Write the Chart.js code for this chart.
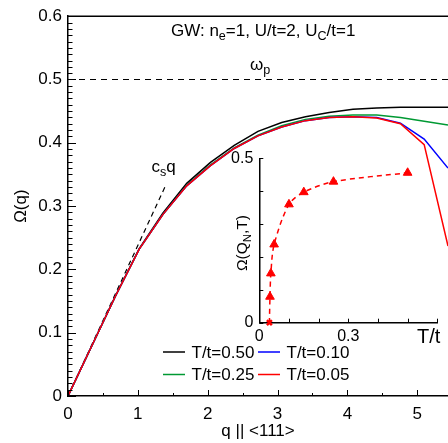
<!DOCTYPE html>
<html>
<head>
<meta charset="utf-8">
<script src="https://cdn.jsdelivr.net/npm/chart.js@4.4.1/dist/chart.umd.min.js"></script>
<style>
    html, body { margin: 0; padding: 0; background: #fff; }
    #wrap { position: relative; width: 448px; height: 443px; overflow: hidden; }
    #main { position: absolute; left: 0; top: 0; }
    #inset { position: absolute; left: 200px; top: 130px; }
</style>
</head>
<body>
<div id="wrap">
    <canvas id="main" width="448" height="443"></canvas>
    <canvas id="inset" width="248" height="240"></canvas>
</div>
<script>
// q along <111>, 16 steps up to the N point (pi*sqrt(3))
const qValues = [0, 0.34, 0.68, 1.02, 1.36, 1.70, 2.04, 2.38, 2.72, 3.06, 3.40, 3.74, 4.08, 4.42, 4.76, 5.10, 5.441];
const omegaT050 = [0, 0.079, 0.158, 0.233, 0.289, 0.336, 0.369, 0.396, 0.418, 0.432, 0.441, 0.448, 0.453, 0.455, 0.456, 0.456, 0.456];
const omegaT025 = [0, 0.079, 0.158, 0.232, 0.287, 0.333, 0.365, 0.392, 0.412, 0.427, 0.437, 0.442, 0.444, 0.444, 0.440, 0.434, 0.428];
const omegaT010 = [0, 0.079, 0.158, 0.232, 0.287, 0.332, 0.364, 0.391, 0.411, 0.425, 0.435, 0.440, 0.441, 0.440, 0.431, 0.406, 0.360];
const omegaT005 = [0, 0.079, 0.158, 0.232, 0.287, 0.332, 0.364, 0.391, 0.411, 0.425, 0.435, 0.440, 0.441, 0.439, 0.430, 0.397, 0.237];

// c_s q and omega_p guide lines
const soundQ = [0, 1.40];
const soundOmega = [0, 0.333];
const plasmaQ = [0, 5.441];
const plasmaOmega = [0.5, 0.5];

// inset: Omega(Q_N, T)
const insetT = [0.034, 0.036, 0.039, 0.05, 0.10, 0.15, 0.25, 0.50];
const insetOmega = [0, 0.079, 0.150, 0.238, 0.360, 0.397, 0.429, 0.456];
const insetMarkers = ['crossRot', 'triangle', 'triangle', 'triangle', 'triangle', 'triangle', 'triangle', 'triangle'];

// legend, column by column
const legendLabels = ['T/t=0.50', 'T/t=0.25', 'T/t=0.10', 'T/t=0.05'];

const FONT = "'Liberation Sans', Arial, sans-serif";
Chart.defaults.font.family = FONT;
Chart.defaults.font.size = 17;
Chart.defaults.color = '#000';

const toPoints = (xs, ys) => xs.map((x, i) => ({ x: x, y: ys[i] }));

function drawRich(ctx, x, y, parts, size) {
    let cx = x;
    parts.forEach(p => {
        const fs = p.sub ? size * 0.74 : size;
        ctx.font = fs + 'px ' + FONT;
        ctx.fillText(p.t, cx, y + (p.sub ? size * 0.24 : 0));
        cx += ctx.measureText(p.t).width;
    });
}

function richWidth(ctx, parts, size) {
    let w = 0;
    parts.forEach(p => {
        ctx.font = (p.sub ? size * 0.74 : size) + 'px ' + FONT;
        w += ctx.measureText(p.t).width;
    });
    return w;
}

// tick marks pointing into the plot
const insideTicks = {
    id: 'insideTicks',
    afterDraw(chart, args, opts) {
        const ctx = chart.ctx;
        const { left, bottom } = chart.chartArea;
        ctx.save();
        ctx.strokeStyle = '#000';
        ctx.lineWidth = 1;
        Object.entries(opts.axes).forEach(([id, spec]) => {
            const scale = chart.scales[id];
            const n = Math.floor((scale.max - scale.min) / spec.minor + 1e-6);
            for (let i = 0; i <= n; i++) {
                const v = scale.min + i * spec.minor;
                const r = v / spec.major;
                const len = Math.abs(r - Math.round(r)) < 1e-6 ? spec.majorLen : spec.minorLen;
                const p = Math.round(scale.getPixelForValue(v)) + 0.5;
                ctx.beginPath();
                if (scale.isHorizontal()) {
                    ctx.moveTo(p, bottom);
                    ctx.lineTo(p, bottom - len);
                } else {
                    ctx.moveTo(left, p);
                    ctx.lineTo(left + len, p);
                }
                ctx.stroke();
            }
        });
        ctx.restore();
    }
};

const mainText = {
    id: 'mainText',
    afterDraw(chart) {
        const ctx = chart.ctx;
        const { left, right, top } = chart.chartArea;
        ctx.save();
        // frame on top
        ctx.strokeStyle = '#000';
        ctx.lineWidth = 1.5;
        ctx.beginPath();
        ctx.moveTo(left, top);
        ctx.lineTo(right, top);
        ctx.stroke();

        ctx.fillStyle = '#000';
        ctx.textBaseline = 'alphabetic';
        ctx.textAlign = 'left';
        drawRich(ctx, 171, 36, [
            { t: 'GW: n' }, { t: 'e', sub: true }, { t: '=1, U/t=2, U' }, { t: 'C', sub: true }, { t: '/t=1' }
        ], 17);
        drawRich(ctx, 250, 70, [{ t: 'ω' }, { t: 'p', sub: true }], 17);
        drawRich(ctx, 151.5, 171.5, [{ t: 'c' }, { t: 's', sub: true }, { t: 'q' }], 17);

        // legend
        const x0 = 163, y0 = 352, colW = 95, rowH = 22.5;
        legendLabels.forEach((label, i) => {
            const ds = chart.data.datasets.find(d => d.label === label);
            const x = x0 + Math.floor(i / 2) * colW;
            const y = y0 + (i % 2) * rowH;
            ctx.strokeStyle = ds.borderColor;
            ctx.lineWidth = 1.5;
            ctx.beginPath();
            ctx.moveTo(x, y);
            ctx.lineTo(x + 22, y);
            ctx.stroke();
            ctx.font = '17px ' + FONT;
            ctx.textBaseline = 'middle';
            ctx.fillText(label, x + 28.5, y + 1);
        });
        ctx.restore();
    }
};

const curve = (label, data, color, order) => ({
    label: label,
    data: toPoints(qValues, data),
    borderColor: color,
    borderWidth: 1.5,
    pointRadius: 0,
    tension: 0,
    order: order
});

new Chart(document.getElementById('main'), {
    type: 'line',
    data: {
        datasets: [
            curve('T/t=0.50', omegaT050, '#000000', 3),
            curve('T/t=0.25', omegaT025, 'rgb(0,153,51)', 2),
            curve('T/t=0.10', omegaT010, 'rgb(0,0,255)', 1),
            curve('T/t=0.05', omegaT005, 'rgb(255,0,0)', 0),
            {
                label: 'omega_p',
                data: toPoints(plasmaQ, plasmaOmega),
                borderColor: '#000',
                borderWidth: 1.2,
                borderDash: [6, 5],
                pointRadius: 0,
                order: 5
            },
            {
                label: 'c_s q',
                data: toPoints(soundQ, soundOmega),
                borderColor: '#000',
                borderWidth: 1.2,
                borderDash: [5, 4],
                pointRadius: 0,
                order: 5
            }
        ]
    },
    options: {
        responsive: false,
        animation: false,
        layout: { padding: { top: 14, right: 0, left: 0, bottom: 0 } },
        plugins: {
            legend: { display: false },
            tooltip: { enabled: false },
            insideTicks: {
                axes: {
                    x: { major: 1, minor: 0.5, majorLen: 6, minorLen: 3 },
                    y: { major: 0.1, minor: 0.01, majorLen: 8, minorLen: 4.5 }
                }
            }
        },
        scales: {
            x: {
                type: 'linear',
                min: 0,
                max: 5.441,
                grid: { display: false, drawTicks: false },
                border: { display: true, color: '#000', width: 1.5 },
                ticks: { stepSize: 1, includeBounds: false, padding: 8, maxRotation: 0, autoSkip: false },
                title: { display: true, text: 'q || <111>', padding: { top: 0, bottom: 1 } },
                afterFit: s => { s.height = 47; }
            },
            y: {
                min: 0,
                max: 0.6,
                grid: { display: false, drawTicks: false },
                border: { display: true, color: '#000', width: 1.5 },
                ticks: {
                    stepSize: 0.1,
                    includeBounds: false,
                    padding: 6,
                    autoSkip: false,
                    callback: v => (Math.abs(v) < 1e-9 ? '0' : v.toFixed(1))
                },
                title: { display: true, text: 'Ω(q)', padding: { top: 11, bottom: 0 } },
                afterFit: s => { s.width = 68; }
            }
        }
    },
    plugins: [insideTicks, mainText]
});

const insetText = {
    id: 'insetText',
    afterDraw(chart) {
        const ctx = chart.ctx;
        const { left, right, top, bottom } = chart.chartArea;
        ctx.save();
        ctx.fillStyle = '#000';
        ctx.textAlign = 'right';
        ctx.textBaseline = 'alphabetic';
        ctx.font = '20px ' + FONT;
        ctx.fillText('T/t', right + 3, bottom + 20.5);

        const parts = [{ t: 'Ω(Q' }, { t: 'N', sub: true }, { t: ',T)' }];
        const w = richWidth(ctx, parts, 15.5);
        ctx.translate(left - 12.5, (top + bottom) / 2 + 2.5);
        ctx.rotate(-Math.PI / 2);
        ctx.textAlign = 'left';
        drawRich(ctx, -w / 2, 0, parts, 15.5);
        ctx.restore();
    }
};

new Chart(document.getElementById('inset'), {
    type: 'line',
    data: {
        datasets: [{
            label: 'Omega(Q_N,T)',
            data: toPoints(insetT, insetOmega),
            borderColor: 'rgb(255,0,0)',
            backgroundColor: 'rgb(255,0,0)',
            borderWidth: 1.5,
            borderDash: [5, 4],
            tension: 0.3,
            clip: false,
            pointStyle: insetMarkers,
            pointRadius: insetMarkers.map(m => (m === 'crossRot' ? 3.5 : 5)),
            pointBorderWidth: insetMarkers.map(m => (m === 'crossRot' ? 2.5 : 1)),
            pointBackgroundColor: 'rgb(255,0,0)',
            pointBorderColor: 'rgb(255,0,0)'
        }]
    },
    options: {
        responsive: false,
        animation: false,
        layout: { padding: { top: 28.3, right: 10.7, left: 0, bottom: 0 } },
        plugins: {
            legend: { display: false },
            tooltip: { enabled: false },
            insideTicks: {
                axes: {
                    x: { major: 0.1, minor: 0.1, majorLen: 4, minorLen: 4 },
                    y: { major: 0.1, minor: 0.1, majorLen: 4, minorLen: 4 }
                }
            }
        },
        scales: {
            x: {
                type: 'linear',
                min: 0,
                max: 0.6,
                grid: { display: false, drawTicks: false },
                border: { display: true, color: '#000', width: 1.5 },
                ticks: {
                    stepSize: 0.1,
                    padding: 4,
                    autoSkip: false,
                    maxRotation: 0,
                    font: { size: 16 },
                    callback: v => (Math.abs(v) < 1e-9 ? '0' : Math.abs(v - 0.3) < 1e-9 ? '0.3' : '')
                },
                afterFit: s => { s.height = 47.3; }
            },
            y: {
                min: 0,
                max: 0.5,
                grid: { display: false, drawTicks: false },
                border: { display: true, color: '#000', width: 1.5 },
                ticks: {
                    stepSize: 0.1,
                    padding: 6,
                    autoSkip: false,
                    font: { size: 16 },
                    callback: v => (Math.abs(v) < 1e-9 ? '0' : Math.abs(v - 0.5) < 1e-9 ? '0.5' : '')
                },
                afterFit: s => { s.width = 59.3; }
            }
        }
    },
    plugins: [insideTicks, insetText]
});
</script>
</body>
</html>
